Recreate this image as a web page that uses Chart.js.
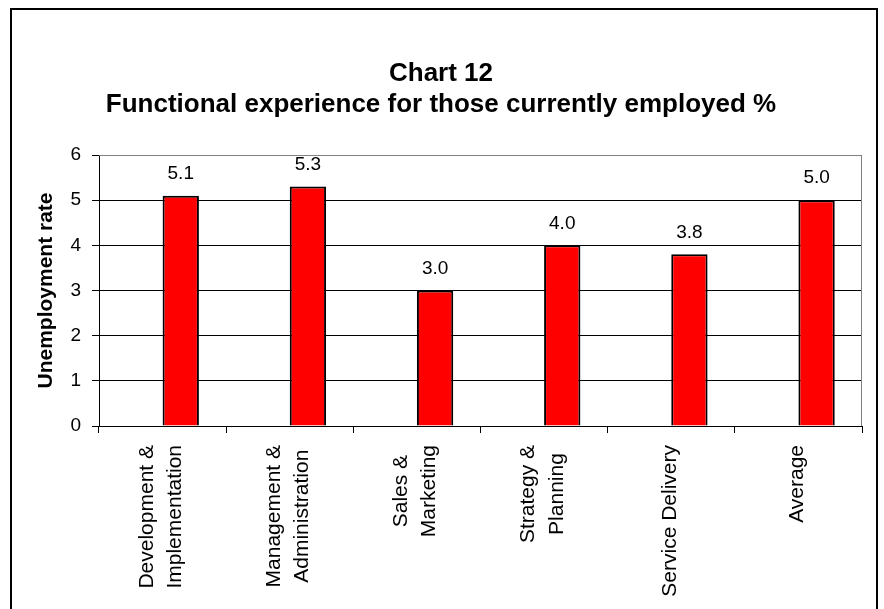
<!DOCTYPE html>
<html>
<head>
<meta charset="utf-8">
<script src="https://cdn.jsdelivr.net/npm/chart.js@4/dist/chart.umd.min.js"></script>
<style>
  html, body { margin: 0; padding: 0; background: #fff; }
  #wrap { position: relative; width: 884px; height: 609px; }
</style>
</head>
<body>
<div id="wrap"><canvas id="c" width="884" height="609"></canvas></div>
<script>
// Functional groups (multi-line labels) and their unemployment rates (%)
const categories = [
  ['Development &', 'Implementation'],
  ['Management &', 'Administration'],
  ['Sales &', 'Marketing'],
  ['Strategy &', 'Planning'],
  ['Service Delivery'],
  ['Average']
];
const rates = [5.1, 5.3, 3.0, 4.0, 3.8, 5.0];
const yTicks = [0, 1, 2, 3, 4, 5, 6];
const chartTitle = ['Chart 12', 'Functional experience for those currently employed %'];
const yAxisTitle = 'Unemployment rate';

const FONT = "'Liberation Sans', Arial, Helvetica, sans-serif";

// Outer frame around the whole figure
const framePlugin = {
  id: 'frame',
  beforeDraw(chart) {
    const ctx = chart.ctx;
    ctx.save();
    ctx.fillStyle = '#fff';
    ctx.fillRect(0, 0, chart.width, chart.height);
    ctx.strokeStyle = '#000';
    ctx.lineWidth = 2;
    ctx.strokeRect(11, 9, 866, chart.height + 20);
    ctx.restore();
  }
};

// Grey plot-area border (top and right edges)
const plotBorderPlugin = {
  id: 'plotBorder',
  beforeDatasetsDraw(chart) {
    const { ctx, chartArea: a } = chart;
    ctx.save();
    ctx.strokeStyle = '#808080';
    ctx.lineWidth = 1;
    ctx.beginPath();
    ctx.moveTo(a.left, a.top + 0.5);
    ctx.lineTo(a.right - 0.5, a.top + 0.5);
    ctx.lineTo(a.right - 0.5, a.bottom);
    ctx.stroke();
    ctx.restore();
  }
};

// Value labels above each bar
const valueLabelPlugin = {
  id: 'valueLabels',
  afterDatasetsDraw(chart) {
    const ctx = chart.ctx;
    const meta = chart.getDatasetMeta(1);
    ctx.save();
    ctx.font = '19px ' + FONT;
    ctx.fillStyle = '#000';
    ctx.textAlign = 'center';
    ctx.textBaseline = 'middle';
    meta.data.forEach((bar, i) => {
      ctx.fillText(rates[i].toFixed(1), bar.x, bar.y - 22);
    });
    ctx.restore();
  }
};

// Vertical category labels, lines centred within each label block
const categoryLabelPlugin = {
  id: 'categoryLabels',
  afterDraw(chart) {
    const ctx = chart.ctx;
    const xs = chart.scales.x;
    const top = chart.chartArea.bottom + 19;
    const pitch = 28.5;
    ctx.save();
    ctx.font = '21px ' + FONT;
    ctx.fillStyle = '#000';
    ctx.textAlign = 'center';
    ctx.textBaseline = 'middle';
    categories.forEach((lines, i) => {
      const cx = xs.getPixelForValue(i) - 1.5;
      const blockLen = Math.max(...lines.map(l => ctx.measureText(l).width));
      lines.forEach((line, j) => {
        const off = (j - (lines.length - 1) / 2) * pitch;
        ctx.save();
        ctx.translate(cx + off, top + blockLen / 2);
        ctx.rotate(-Math.PI / 2);
        ctx.fillText(line, 0, 0);
        ctx.restore();
      });
    });
    ctx.restore();
  }
};

new Chart(document.getElementById('c'), {
  type: 'bar',
  data: {
    labels: categories,
    datasets: [
      {
        // empty companion series: keeps the bars in the right half of each slot
        label: '',
        data: rates.map(() => null),
        backgroundColor: 'rgba(0,0,0,0)'
      },
      {
        label: yAxisTitle,
        data: rates,
        backgroundColor: '#ff0000',
        borderColor: '#000',
        borderWidth: 2
      }
    ]
  },
  options: {
    responsive: false,
    animation: false,
    devicePixelRatio: 1,
    categoryPercentage: 2 / 3.5,
    barPercentage: 1,
    layout: { padding: { left: 20, right: 22, top: 0, bottom: 0 } },
    plugins: {
      legend: { display: false },
      tooltip: { enabled: false },
      title: {
        display: true,
        text: chartTitle,
        color: '#000',
        font: { family: FONT, size: 26, weight: 'bold', lineHeight: 1.2 },
        padding: { top: 58, bottom: 34.6 }
      }
    },
    scales: {
      x: {
        offset: true,
        grid: {
          offset: true,
          drawOnChartArea: false,
          drawTicks: true,
          tickLength: 7,
          color: '#000',
          tickColor: '#000'
        },
        border: { color: '#000', width: 1 },
        ticks: { display: false },
        afterFit(scale) { scale.height = 183; }
      },
      y: {
        min: 0,
        max: 6,
        afterBuildTicks(scale) { scale.ticks = yTicks.map(v => ({ value: v })); },
        grid: {
          color: ctx => (ctx.tick && ctx.tick.value === 6 ? '#808080' : '#000'),
          tickColor: '#000',
          tickLength: 7,
          lineWidth: 1
        },
        border: { color: '#000', width: 1 },
        ticks: {
          color: '#000',
          padding: 11,
          font: { family: FONT, size: 19 }
        },
        title: {
          display: true,
          text: yAxisTitle,
          color: '#000',
          font: { family: FONT, size: 21, weight: 'bold', lineHeight: 1.2 },
          padding: { top: 14, bottom: 0 }
        },
        afterFit(scale) { scale.width = 79; }
      }
    }
  },
  plugins: [framePlugin, plotBorderPlugin, valueLabelPlugin, categoryLabelPlugin]
});
</script>
</body>
</html>
